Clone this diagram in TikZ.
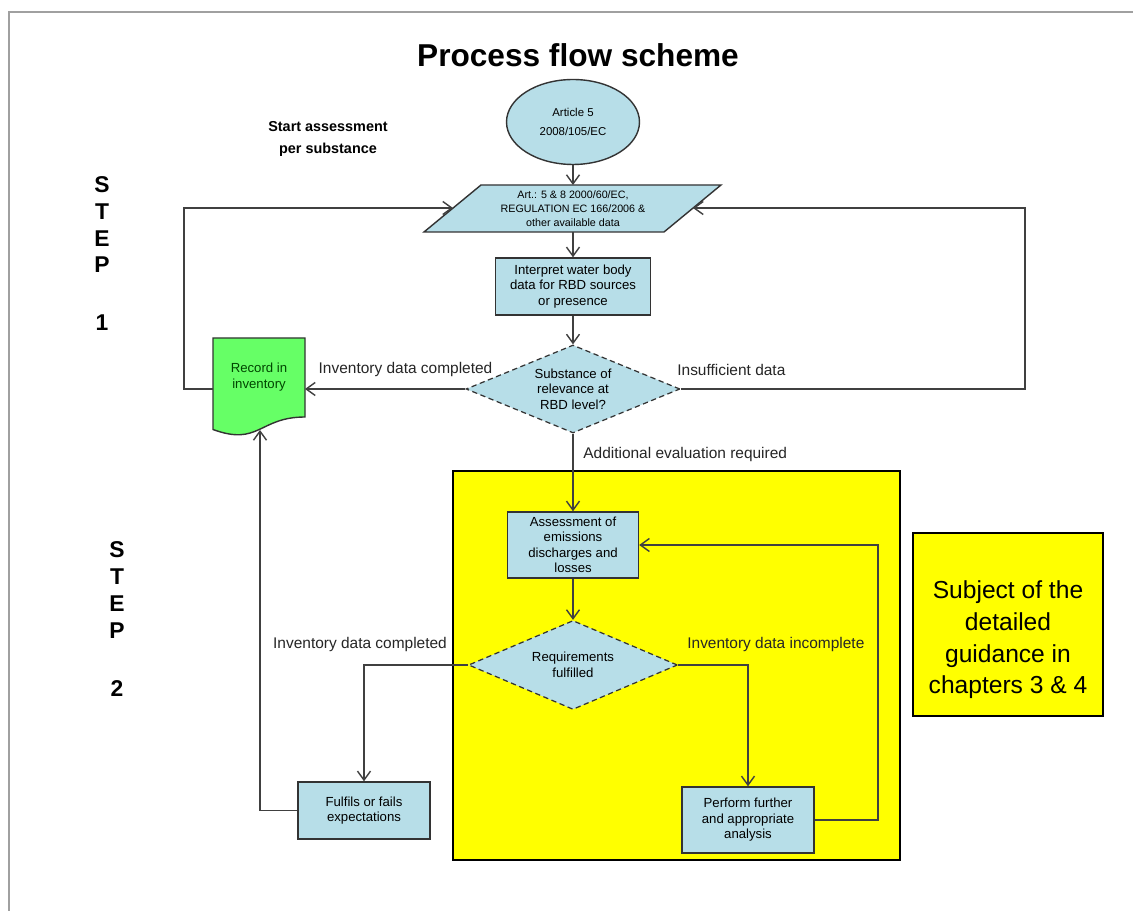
\documentclass[tikz,border=0pt]{standalone}
\usepackage{fontspec}
\setmainfont{Liberation Sans}
\usetikzlibrary{shapes.geometric,arrows.meta}
\definecolor{boxblue}{RGB}{183,222,232}
\definecolor{docgreen}{RGB}{102,255,102}
\definecolor{yel}{RGB}{255,255,0}
\definecolor{linegray}{RGB}{64,64,64}
\definecolor{framegray}{RGB}{160,160,160}
\definecolor{darkgreen}{RGB}{0,70,0}
\begin{document}
\begin{tikzpicture}[x=0.02cm,y=-0.02cm,
  conn/.style={draw=linegray, line width=0.8pt, -{Straight Barb[length=1.8mm,width=2.6mm]}},
  procbox/.style={rectangle, draw=black!80, line width=0.8pt, fill=boxblue, align=center,
    font=\fontsize{7.5}{8.8}\selectfont, inner sep=0pt},
  decision/.style={diamond, draw=black!80, densely dashed, line width=0.7pt, fill=boxblue,
    align=center, inner sep=0pt, aspect=2.4, font=\fontsize{7.5}{8.8}\selectfont},
  lbl/.style={font=\fontsize{8.8}{10}\selectfont, text=black!85, inner sep=0pt},
  steplbl/.style={font=\bfseries\fontsize{13}{15.3}\selectfont, inner sep=0pt, align=center},
  yelbox/.style={draw=black, line width=1.4pt, fill=yel}
]
\useasboundingbox (0,0) rectangle (1133,911);
\fill[white] (0,0) rectangle (1133,911);
% frame
\draw[framegray, line width=1.2pt] (9,911) -- (9,12) -- (1133,12);

% yellow areas
\draw[yelbox] (453,471) rectangle (900,860);
\draw[yelbox] (913,533) rectangle (1103,716);
\node[font=\fontsize{14}{18}\selectfont, align=center, inner sep=0pt] (subj) at (1008,640)
  {Subject of the\\detailed\\guidance in\\chapters 3 \& 4};

% title and headings
\node[font=\bfseries\fontsize{18}{20}\selectfont, inner sep=0pt] (title) at (578,55) {Process flow scheme};
\node[font=\bfseries\fontsize{8.2}{12.5}\selectfont, align=center, inner sep=0pt] (start) at (328,139)
  {Start assessment\\per substance};
\node[steplbl] (step1) at (102,253.5) {S\\T\\E\\P\\[17.6pt]1};
\node[steplbl] (step2) at (117,619) {S\\T\\E\\P\\[17.6pt]2};

% start ellipse
\node[ellipse, draw=black!80, line width=0.8pt, fill=boxblue, minimum width=2.66cm, minimum height=1.7cm,
  inner sep=0pt, align=center, font=\fontsize{6.5}{10.5}\selectfont] (art) at (573,122) {Article 5\\2008/105/EC};

% data parallelogram
\draw[draw=black!80, line width=0.8pt, fill=boxblue] (481,185) -- (721,185) -- (664,232) -- (424,232) -- cycle;
\node[align=center, inner sep=0pt, font=\fontsize{6.1}{7.9}\selectfont] (par) at (573,209)
  {Art.: 5 \& 8 2000/60/EC,\\REGULATION EC 166/2006 \&\\other available data};
\coordinate (parT) at (573,185);
\coordinate (parB) at (573,232);
\coordinate (parL) at (453,208);
\coordinate (parR) at (693,208);

% process boxes
\node[procbox, minimum width=3.1cm, minimum height=1.14cm] (interp) at (573,286.5)
  {Interpret water body\\data for RBD sources\\or presence};
\node[decision, minimum width=4.28cm, minimum height=1.76cm] (d1) at (573,389)
  {Substance of\\relevance at\\RBD level?};
\node[procbox, minimum width=2.62cm, minimum height=1.32cm] (assess) at (573,545)
  {Assessment of\\emissions\\discharges and\\losses};
\node[decision, minimum width=4.18cm, minimum height=1.78cm] (d2) at (573,665)
  {Requirements\\fulfilled};
\node[procbox, minimum width=2.64cm, minimum height=1.14cm] (fulf) at (364,810.5)
  {Fulfils or fails\\expectations};
\node[procbox, minimum width=2.64cm, minimum height=1.32cm] (perf) at (748,820)
  {Perform further\\and appropriate\\analysis};

% document shape
\draw[draw=black!80, line width=0.8pt, fill=docgreen] (213,338) -- (305,338) -- (305,417)
  .. controls (259,417) and (259,446.5) .. (213,429.5) -- cycle;
\node[align=center, inner sep=0pt, text=darkgreen, font=\fontsize{7.5}{8.8}\selectfont] (doc) at (259,377)
  {Record in\\inventory};
\coordinate (docR) at (305,389);
\coordinate (docL) at (213,389);
\coordinate (docB) at (260,430);

% connectors
\draw[conn] (art) -- (parT);
\draw[conn] (parB) -- (interp);
\draw[conn] (interp) -- (d1);
\draw[conn] (d1.west) -- (docR);
\draw[conn] (docL) -- (184,389) -- (184,208) -- (parL);
\draw[conn] (d1.east) -- (1025,389) -- (1025,208) -- (parR);
\draw[conn] (d1.south) -- (assess.north);
\draw[conn] (assess) -- (d2);
\draw[conn] (d2.west) -| (fulf.north);
\draw[conn] (d2.east) -| (perf.north);
\draw[conn] (fulf.west) -| (docB);
\draw[conn] (perf.east) -- (878,820) |- (assess.east);

% connector labels
\node[lbl] (l1) at (405.5,370) {Inventory data completed};
\node[lbl, anchor=west] (l2) at (677,370) {Insufficient data};
\node[lbl, anchor=west] (l3) at (583,455) {Additional evaluation required};
\node[lbl] (l4) at (360,645) {Inventory data completed};
\node[lbl, anchor=west] (l5) at (687,645) {Inventory data incomplete};
\end{tikzpicture}
\end{document}
